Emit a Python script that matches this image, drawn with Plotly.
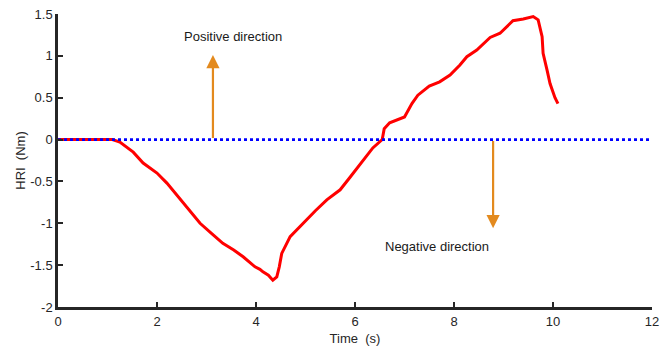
import plotly.graph_objects as go

# Red HRI curve (time in s, torque in Nm)
t = [0, 0.5, 1.0, 1.1, 1.25, 1.52, 1.72, 2.0, 2.2, 2.6, 2.87, 3.1, 3.33, 3.55, 3.74, 3.98,
     4.08, 4.14, 4.25, 4.34, 4.42, 4.47, 4.52, 4.69, 4.85, 5.03, 5.2, 5.43, 5.7, 5.9, 6.1,
     6.36, 6.55, 6.59, 6.7, 6.84, 7.0, 7.15, 7.27, 7.5, 7.71, 7.92, 8.12, 8.26, 8.46, 8.73,
     8.93, 9.19, 9.4, 9.6, 9.7, 9.78, 9.8, 9.88, 9.94, 10.04, 10.1]
hri = [0, 0, 0, 0, -0.03, -0.15, -0.28, -0.40, -0.52, -0.80, -1.0, -1.12, -1.24, -1.32, -1.40, -1.52,
       -1.55, -1.58, -1.62, -1.68, -1.64, -1.52, -1.36, -1.16, -1.06, -0.96, -0.85, -0.72, -0.60, -0.45, -0.30,
       -0.10, 0.0, 0.13, 0.20, 0.23, 0.27, 0.43, 0.53, 0.64, 0.69, 0.77, 0.89, 0.99, 1.07, 1.22,
       1.27, 1.42, 1.44, 1.47, 1.43, 1.23, 1.03, 0.83, 0.67, 0.50, 0.43]

# Zero reference line
ref_t = [0, 12]
ref_v = [0, 0]

# Direction arrows: (x, y_start, y_end)
pos_arrow = (3.13, 0.0, 1.01)
neg_arrow = (8.79, 0.0, -1.06)
pos_label = ("Positive direction", 3.53, 1.23)
neg_label = ("Negative direction", 7.66, -1.28)

xticks = [0, 2, 4, 6, 8, 10, 12]
yticks = [-2, -1.5, -1, -0.5, 0, 0.5, 1, 1.5]
yticklabels = ["-2", "-1.5", "-1", "-0.5", "0", "0.5", "1", "1.5"]

axis_col = "#262626"
arrow_col = "#E38A1E"
fnt = "Liberation Sans, Arial"

fig = go.Figure()
fig.add_trace(go.Scatter(x=t, y=hri, mode="lines",
                         line=dict(color="#FF0000", width=3), showlegend=False))
fig.add_trace(go.Scatter(x=ref_t, y=ref_v, mode="lines",
                         line=dict(color="#0000FF", width=2.8, dash="dot"), showlegend=False))

for (ax_, y0, y1) in (pos_arrow, neg_arrow):
    fig.add_annotation(x=ax_, y=y1, ax=ax_, ay=y0, xref="x", yref="y", axref="x", ayref="y",
                       showarrow=True, arrowhead=2, arrowsize=1.2, arrowwidth=2.2,
                       arrowcolor=arrow_col, text="")

for (txt, x_, y_) in (pos_label, neg_label):
    fig.add_annotation(x=x_, y=y_, xref="x", yref="y", text=txt, showarrow=False,
                       font=dict(family=fnt, size=13, color="#1a1a1a"))

fig.update_layout(
    width=665, height=350,
    margin=dict(l=58, r=13, t=14, b=43, autoexpand=False),
    paper_bgcolor="white", plot_bgcolor="white",
    font=dict(family=fnt, size=13, color=axis_col),
)
fig.update_xaxes(range=[0, 12], tickvals=xticks, ticks="inside", ticklen=5, tickwidth=2,
                 tickcolor=axis_col, showline=True, linecolor=axis_col, linewidth=2.5,
                 showgrid=False, zeroline=False, automargin=False, ticklabelstandoff=1,
                 title=dict(text="Time\u00a0 (s)", standoff=6, font=dict(size=13)))
fig.update_yaxes(range=[-2, 1.5], tickvals=yticks, ticktext=yticklabels, ticks="inside",
                 ticklen=5, tickwidth=2, tickcolor=axis_col, showline=True, linecolor=axis_col,
                 linewidth=2.5, showgrid=False, zeroline=False, automargin=False,
                 title=dict(text="HRI\u00a0 (Nm)", standoff=2, font=dict(size=13)))

fig.write_html("out.html")
